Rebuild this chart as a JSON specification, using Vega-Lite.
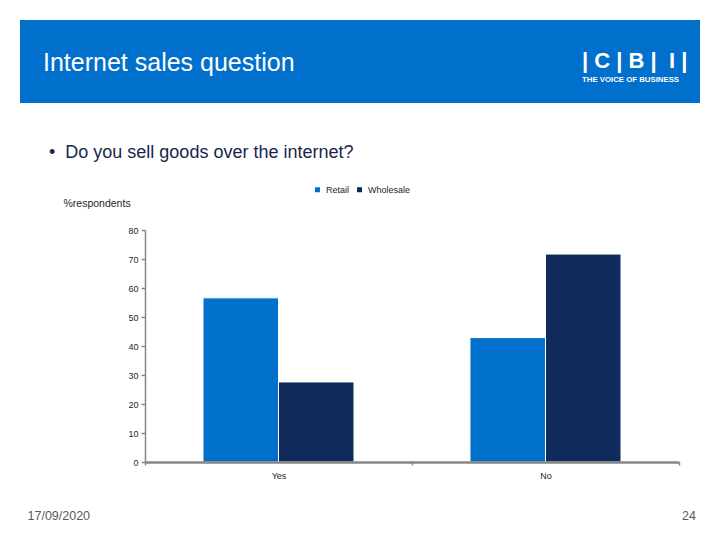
{
  "$schema": "https://vega.github.io/schema/vega-lite/v6.json",
  "padding": {"left": 20, "top": 20, "right": 0, "bottom": 0},
  "autosize": {"type": "pad"},
  "background": "white",
  "config": {
    "font": "Liberation Sans",
    "view": {"stroke": null}
  },
  "title": {
    "text": "24",
    "orient": "bottom",
    "anchor": "end",
    "frame": "bounds",
    "offset": -12,
    "dx": -4,
    "fontSize": 12.5,
    "fontWeight": "normal",
    "color": "#595959"
  },
  "spacing": 127,
  "bounds": "flush",
  "vconcat": [
    {
      "width": 680,
      "height": 83,
      "view": {"fill": "#0070CC", "stroke": null},
      "data": {"values": [{"panel": "header"}]},
      "mark": {"type": "rect", "color": "#0070CC"},
      "title": {
        "text": "Internet sales question",
        "anchor": "start",
        "frame": "group",
        "orient": "top",
        "offset": -76,
        "dx": 23,
        "baseline": "alphabetic",
        "fontSize": 25,
        "fontWeight": "normal",
        "color": "#ffffff"
      }
    },
    {
      "hconcat": [
        {
          "width": 105,
          "height": 1,
          "data": {"values": [{"panel": "spacer"}]},
          "mark": {"type": "rect", "opacity": 0},
          "title": {
            "text": "|\u00a0C\u00a0|\u00a0B\u00a0|\u00a0\u00a0I\u00a0|",
            "subtitle": "THE VOICE OF BUSINESS",
            "anchor": "start",
            "frame": "group",
            "orient": "top",
            "offset": 145,
            "dx": 562,
            "fontSize": 22,
            "fontWeight": "bold",
            "color": "#ffffff",
            "subtitleFontSize": 7.8,
            "subtitleFontWeight": "bold",
            "subtitleColor": "#ffffff",
            "subtitlePadding": 3
          }
        },
        {
          "width": 534,
          "height": 232,
          "data": {
            "values": [
              {"answer": "Yes", "series": "Retail", "value": 56.6},
              {"answer": "Yes", "series": "Wholesale", "value": 27.6},
              {"answer": "No", "series": "Retail", "value": 42.9},
              {"answer": "No", "series": "Wholesale", "value": 71.7}
            ]
          },
          "title": {
            "text": "•\u00a0\u00a0Do you sell goods over the internet?",
            "anchor": "start",
            "frame": "group",
            "orient": "top",
            "offset": 36,
            "dx": -96,
            "fontSize": 18,
            "fontWeight": "normal",
            "color": "#17264A"
          },
          "mark": {"type": "bar", "stroke": "white", "strokeWidth": 1},
          "encoding": {
            "x": {
              "field": "answer",
              "type": "nominal",
              "sort": ["Yes", "No"],
              "scale": {"paddingInner": 0, "paddingOuter": 0},
              "axis": {
                "title": "17/09/2020",
                "titleX": -118,
                "titleY": 57,
                "titleAlign": "left",
                "titleAnchor": "start",
                "titleBaseline": "alphabetic",
                "titleFontSize": 12.5,
                "titleFontWeight": "normal",
                "titleColor": "#595959",
                "labelAngle": 0,
                "labelFontSize": 9,
                "labelColor": "#262626",
                "labelPadding": 6,
                "domainColor": "#868686",
                "domainWidth": 2.5,
                "tickColor": "#868686",
                "tickSize": 3,
                "tickWidth": 1.5,
                "tickBand": "extent",
                "zindex": 1
              }
            },
            "xOffset": {
              "field": "series",
              "type": "nominal",
              "sort": ["Retail", "Wholesale"],
              "scale": {"paddingInner": 0, "paddingOuter": 0.768}
            },
            "y": {
              "field": "value",
              "type": "quantitative",
              "scale": {"domain": [0, 80], "nice": false},
              "axis": {
                "values": [0, 10, 20, 30, 40, 50, 60, 70, 80],
                "title": "%respondents",
                "titleAngle": 0,
                "titleAlign": "left",
                "titleBaseline": "alphabetic",
                "titleX": -82,
                "titleY": -24,
                "titleFontSize": 10.5,
                "titleFontWeight": "normal",
                "titleColor": "#262626",
                "labelFontSize": 9,
                "labelColor": "#262626",
                "labelPadding": 3,
                "tickSize": 4,
                "tickColor": "#868686",
                "tickWidth": 1.5,
                "domainColor": "#868686",
                "domainWidth": 1.5,
                "grid": false,
                "zindex": 1
              }
            },
            "color": {
              "field": "series",
              "type": "nominal",
              "scale": {"domain": ["Retail", "Wholesale"], "range": ["#0070CC", "#0F2A5B"]},
              "legend": {
                "orient": "none",
                "legendX": 293,
                "legendY": 165,
                "direction": "horizontal",
                "title": null,
                "symbolType": "square",
                "symbolSize": 25,
                "symbolStrokeWidth": 0,
                "labelFontSize": 9,
                "labelColor": "#262626",
                "labelOffset": 4,
                "columnPadding": 5,
                "padding": 0
              }
            }
          }
        }
      ],
      "spacing": 20,
      "bounds": "flush"
    }
  ]
}
